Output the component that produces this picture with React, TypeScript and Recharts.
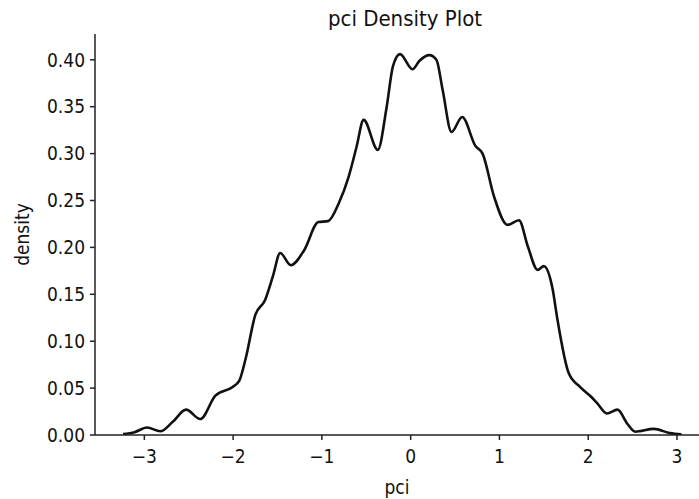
import React from 'react';
import { LineChart, Line, XAxis, YAxis } from 'recharts';

// kde curve, pci value -> density
const pci = [
  -3.24, -3.11, -2.97, -2.82, -2.68, -2.53, -2.37, -2.2, -2.01, -1.93, -1.86, -1.75,
  -1.64, -1.55, -1.47, -1.35, -1.2, -1.04, -0.93, -0.81, -0.7, -0.61, -0.53, -0.37,
  -0.27, -0.2, -0.12, 0.02, 0.1, 0.21, 0.29, 0.36, 0.46, 0.58, 0.73, 0.81, 0.94, 1.09,
  1.22, 1.32, 1.43, 1.5, 1.6, 1.65, 1.78, 1.91, 2.03, 2.1, 2.21, 2.33, 2.44, 2.53, 2.74,
  2.92, 3.05,
];
const density = [
  0.001, 0.003, 0.008, 0.004, 0.014, 0.027, 0.017, 0.042, 0.051, 0.058, 0.081, 0.128,
  0.144, 0.17, 0.194, 0.181, 0.197, 0.227, 0.228, 0.247, 0.275, 0.307, 0.336, 0.304,
  0.35, 0.393, 0.406, 0.39, 0.399, 0.405, 0.4, 0.368, 0.323, 0.339, 0.308, 0.3, 0.254,
  0.224, 0.229, 0.201, 0.176, 0.18, 0.155, 0.125, 0.066, 0.051, 0.041, 0.034, 0.023,
  0.027, 0.012, 0.0035, 0.0065, 0.002, 0.0007,
];
const xTicks = [-3, -2, -1, 0, 1, 2, 3];
const yTicks = [0, 0.05, 0.1, 0.15, 0.2, 0.25, 0.3, 0.35, 0.4];

const data = pci.map((x, i) => ({ x, density: density[i] }));

// the reference text is a bit narrow, so try the condensed face first
const FONT = '"DejaVu Sans Condensed", "DejaVu Sans", sans-serif';
const textStyle = { fontFamily: FONT, fontSize: 19, fill: '#111' };

export default function App() {
  return (
    <div style={{ position: 'absolute', left: 0, top: 0, background: '#fff' }}>
      <LineChart width={699} height={499} data={data} margin={{ top: 34, right: 0, bottom: 0, left: 0 }}>
        <XAxis
          dataKey="x"
          type="number"
          domain={[-3.556, 3.248]}
          allowDataOverflow
          ticks={xTicks}
          tickFormatter={(v: number) => String(v).replace('-', '\u2212')}
          tick={textStyle}
          tickSize={5}
          tickMargin={10}
          height={64}
          axisLine={{ stroke: '#222', strokeWidth: 1.5 }}
          tickLine={{ stroke: '#222', strokeWidth: 1.5 }}
          label={{ value: 'pci', position: 'insideBottom', offset: 5, style: textStyle }}
        />
        <XAxis
          xAxisId="top"
          orientation="top"
          type="number"
          domain={[-3.556, 3.248]}
          allowDataOverflow
          tick={false}
          tickLine={false}
          height={0}
          axisLine={{ stroke: '#222', strokeWidth: 1.5 }}
        />
        <YAxis
          type="number"
          domain={[0, 0.4275]}
          allowDataOverflow
          ticks={yTicks}
          tickFormatter={(v: number) => v.toFixed(2)}
          tick={textStyle}
          tickSize={5}
          tickMargin={5}
          width={95}
          axisLine={{ stroke: '#222', strokeWidth: 1.5 }}
          tickLine={{ stroke: '#222', strokeWidth: 1.5 }}
          label={{ value: 'density', angle: -90, position: 'center', dx: -25, style: textStyle }}
        />
        <Line
          dataKey="density"
          type="monotone"
          stroke="#111"
          strokeWidth={2.6}
          dot={false}
          isAnimationActive={false}
        />
        <text x={405} y={26} textAnchor="middle" fontFamily={FONT} fontSize={22} fill="#111">
          pci Density Plot
        </text>
      </LineChart>
    </div>
  );
}
